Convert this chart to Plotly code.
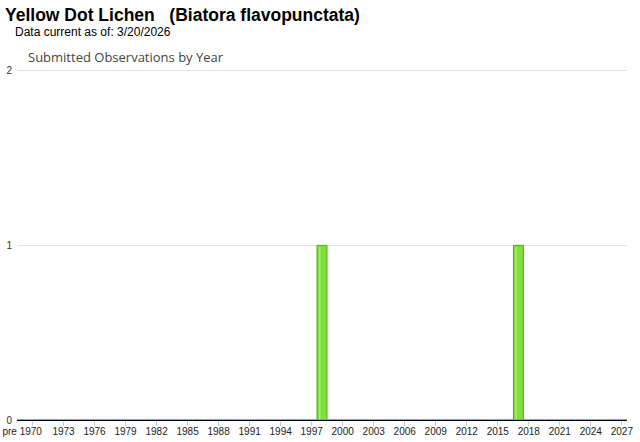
import plotly.graph_objects as go

# Categories (x axis), first bucket is "pre 1970"
categories = ["pre 1970",
              "1970", "1971", "1972", "1973", "1974", "1975", "1976", "1977", "1978", "1979",
              "1980", "1981", "1982", "1983", "1984", "1985", "1986", "1987", "1988", "1989",
              "1990", "1991", "1992", "1993", "1994", "1995", "1996", "1997", "1998", "1999",
              "2000", "2001", "2002", "2003", "2004", "2005", "2006", "2007", "2008", "2009",
              "2010", "2011", "2012", "2013", "2014", "2015", "2016", "2017", "2018", "2019",
              "2020", "2021", "2022", "2023", "2024", "2025", "2026", "2027"]

# Observations per category
observations = [0,
                0, 0, 0, 0, 0, 0, 0, 0, 0, 0,
                0, 0, 0, 0, 0, 0, 0, 0, 0, 0,
                0, 0, 0, 0, 0, 0, 0, 0, 1, 0,
                0, 0, 0, 0, 0, 0, 0, 0, 0, 0,
                0, 0, 0, 0, 0, 0, 0, 1, 0, 0,
                0, 0, 0, 0, 0, 0, 0, 0]

# Tick labels shown
tick_labels = ["pre 1970", "1973", "1976", "1979", "1982", "1985", "1988", "1991", "1994",
               "1997", "2000", "2003", "2006", "2009", "2012", "2015", "2018", "2021",
               "2024", "2027"]
tick_mark_labels = ["1970", "1973", "1976", "1979", "1982", "1985", "1988", "1991", "1994",
                    "1997", "2000", "2003", "2006", "2009", "2012", "2015", "2018", "2021",
                    "2024", "2027"]

y_ticks = [0, 1, 2]

xpos = list(range(len(categories)))
label_pos = [categories.index(t) for t in tick_labels]
mark_pos = [categories.index(t) for t in tick_mark_labels]

fig = go.Figure()
fig.add_trace(go.Bar(
    x=xpos, y=observations,
    marker=dict(color="#80e03c", line=dict(color="#4ca81a", width=1)),
    hovertext=categories, hoverinfo="text+y",
))
# light highlight stripe on bars
fig.add_trace(go.Bar(
    x=xpos, y=[v * 0.99 for v in observations],
    width=0.12, offset=-0.28,
    marker=dict(color="rgba(200,255,160,0.55)", line=dict(width=0)),
    hoverinfo="skip",
))

fig.update_layout(
    width=640, height=442,
    margin=dict(l=17, r=13, t=69, b=22, autoexpand=False),
    plot_bgcolor="white", paper_bgcolor="white",
    showlegend=False,
    barmode="overlay",
    bargap=0.04,
    font=dict(family="Arial, Liberation Sans, sans-serif", size=10, color="#222"),
    title=dict(
        text="<b>Yellow Dot Lichen   (Biatora flavopunctata)</b>",
        x=5 / 640, xanchor="left", xref="container",
        y=1 - 15 / 442, yanchor="middle", yref="container",
        pad=dict(l=0, r=0, t=0, b=0),
        font=dict(family="Arial, Liberation Sans, sans-serif", size=17.5, color="#000"),
    ),
    xaxis=dict(
        range=[-0.5, len(categories) - 0.5],
        tickmode="array", tickvals=label_pos, ticktext=tick_labels,
        ticks="", showgrid=False, zeroline=False, automargin=False,
        showline=True, linecolor="#000", linewidth=1,
        ticklabelstandoff=2,
        tickfont=dict(size=10, color="#222"),
        minor=dict(tickmode="array", tickvals=mark_pos, ticks="outside",
                   ticklen=5, tickcolor="#cccccc", tickwidth=1, showgrid=False),
        fixedrange=True,
    ),
    yaxis=dict(
        range=[0, 2.01], tickmode="array", tickvals=y_ticks,
        showgrid=True, gridcolor="#e2e2e2", gridwidth=1,
        zeroline=False, showline=False, automargin=False,
        ticks="outside", ticklen=2, tickcolor="rgba(0,0,0,0)",
        tickfont=dict(size=10, color="#333"),
        fixedrange=True,
    ),
    annotations=[
        dict(text="Data current as of: 3/20/2026", xref="paper", yref="paper",
             x=(13 - 17) / 610, y=(420 - 32) / 351, xanchor="left", yanchor="middle",
             showarrow=False, font=dict(family="Arial, Liberation Sans, sans-serif",
                                        size=12, color="#000")),
        dict(text="Submitted Observations by Year", xref="paper", yref="paper",
             x=(26 - 17) / 610, y=(420 - 57) / 351, xanchor="left", yanchor="middle",
             showarrow=False, font=dict(family="Open Sans, sans-serif",
                                        size=13, color="#444")),
    ],
)

fig.write_html("out.html",
               config={"displayModeBar": False},
               post_script="document.body.style.margin='0';document.body.style.padding='0';")
